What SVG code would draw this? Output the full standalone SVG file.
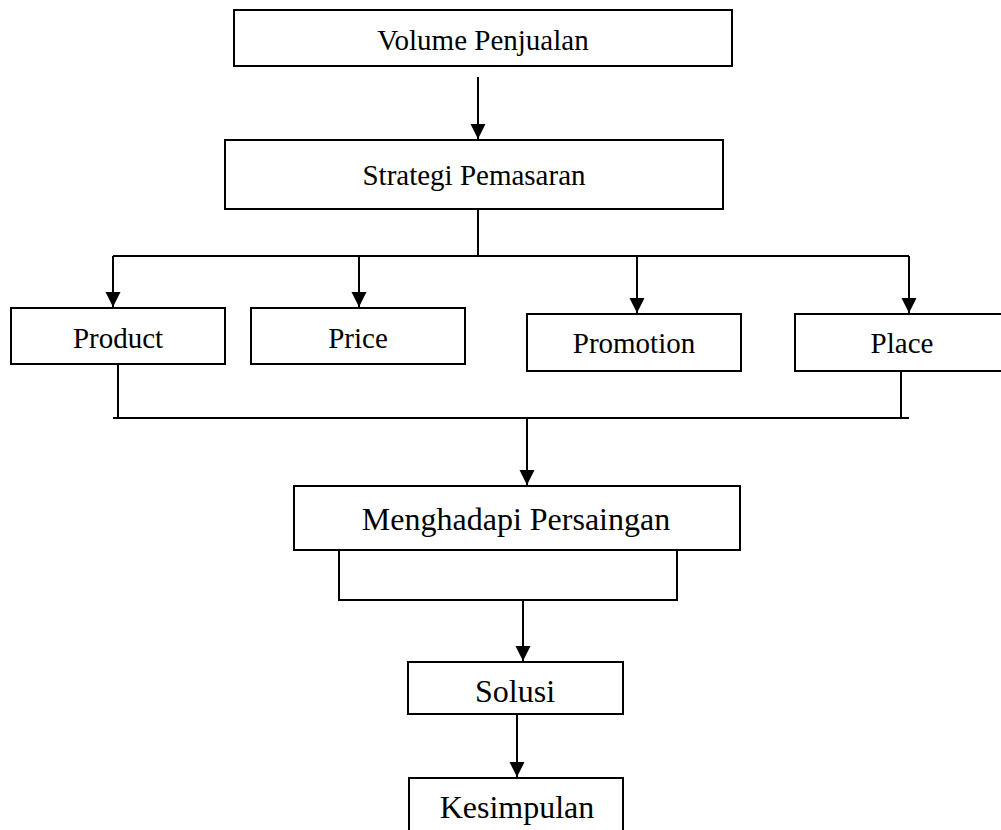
<svg xmlns="http://www.w3.org/2000/svg" width="1001" height="830" viewBox="0 0 1001 830">
<style>
.box{fill:#fff;stroke:#000;stroke-width:2}
.t{font-family:"Liberation Serif","Times New Roman",serif;fill:#000;text-anchor:middle}
.s29{font-size:29px}
.s32{font-size:32px}
.ln{fill:none;stroke:#000;stroke-width:2}
</style>
<defs>
<marker id="ah" markerUnits="userSpaceOnUse" markerWidth="16" markerHeight="16" refX="15" refY="7.5" orient="auto">
<path d="M0,0 L15,7.5 L0,15 z" fill="#000"/>
</marker>
</defs>
<rect width="1001" height="830" fill="#fff"/>
<g id="connectors">
<path class="ln" d="M478,77 L478,139" marker-end="url(#ah)"/>
<path class="ln" d="M478,209 L478,256"/>
<path class="ln" d="M113,256 L909,256"/>
<path class="ln" d="M113,256 L113,307" marker-end="url(#ah)"/>
<path class="ln" d="M359,256 L359,307" marker-end="url(#ah)"/>
<path class="ln" d="M637,256 L637,313" marker-end="url(#ah)"/>
<path class="ln" d="M909,256 L909,313" marker-end="url(#ah)"/>
<path class="ln" d="M118,364 L118,418"/>
<path class="ln" d="M901,371 L901,418"/>
<path class="ln" d="M113,418 L909,418"/>
<path class="ln" d="M527,418 L527,485" marker-end="url(#ah)"/>
<path class="ln" d="M339,550 L339,600 L677,600 L677,550"/>
<path class="ln" d="M523,600 L523,661" marker-end="url(#ah)"/>
<path class="ln" d="M517,714 L517,777" marker-end="url(#ah)"/>
</g>
<g id="volume">
<rect class="box" x="234" y="10" width="498" height="56"/>
<text class="t s29" x="483" y="50">Volume Penjualan</text>
</g>
<g id="strategi">
<rect class="box" x="225" y="140" width="498" height="69"/>
<text class="t s29" x="474" y="185">Strategi Pemasaran</text>
</g>
<g id="product">
<rect class="box" x="11" y="308" width="214" height="56"/>
<text class="t s29" x="118" y="348">Product</text>
</g>
<g id="price">
<rect class="box" x="251" y="308" width="214" height="56"/>
<text class="t s29" x="358" y="348">Price</text>
</g>
<g id="promotion">
<rect class="box" x="527" y="314" width="214" height="57"/>
<text class="t s29" x="634" y="353">Promotion</text>
</g>
<g id="place">
<rect class="box" x="795" y="314" width="220" height="57"/>
<text class="t s29" x="902" y="353">Place</text>
</g>
<g id="menghadapi">
<rect class="box" x="294" y="486" width="446" height="64"/>
<text class="t s32" x="516" y="530">Menghadapi Persaingan</text>
</g>
<g id="solusi">
<rect class="box" x="408" y="662" width="215" height="52"/>
<text class="t s32" x="515" y="702">Solusi</text>
</g>
<g id="kesimpulan">
<rect class="box" x="409" y="778" width="214" height="70"/>
<text class="t s32" x="517" y="818">Kesimpulan</text>
</g>
</svg>
